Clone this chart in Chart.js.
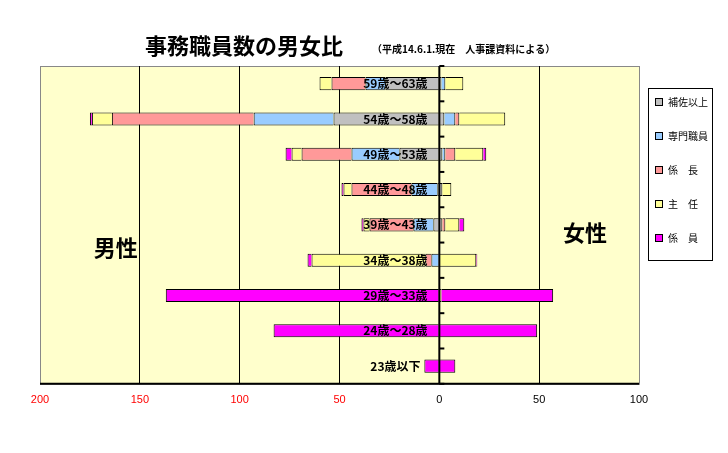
<!DOCTYPE html>
<html><head><meta charset="utf-8">
<script src="https://cdn.jsdelivr.net/npm/chart.js@4"></script>
<style>body{margin:0;background:#fff}#wrap{width:728px;height:453px}</style>
</head><body><div id="wrap"><canvas id="c"></canvas></div>
<script>
const ageGroups = ['59歳～63歳','54歳～58歳','49歳～53歳','44歳～48歳','39歳～43歳','34歳～38歳','29歳～33歳','24歳～28歳','23歳以下'];
const roles = ['補佐以上','専門職員','係　長','主　任','係　員'];
const roleColors = ['#C0C0C0','#99CCFF','#FF9999','#FFFF99','#FF00FF'];
// male counts (drawn to the left), per role
const maleHosa    = [27, 53, 20, 1, 3, 0, 0, 0, 0];
const maleSenmon  = [10, 40, 24, 13, 10, 4, 0, 0, 0];
const maleKakari  = [17, 71, 25, 30, 22, 3, 0, 0, 0];
const maleShunin  = [6, 10, 5, 4, 3, 57, 0, 0, 0];
const maleKakariin= [0, 1, 3, 1, 1, 2, 137, 83, 7.5];
// female counts (drawn to the right)
const femHosa     = [1, 2.5, 1.5, 1.5, 1.5, 0, 0, 0, 0];
const femSenmon   = [2, 5.5, 1.5, 0, 0, 0, 0, 0, 0];
const femKakari   = [0, 2, 5, 0, 1.5, 0, 0, 0, 0];
const femShunin   = [9, 23, 14, 4.5, 7, 18.5, 1, 0, 0];
const femKakariin = [0, 0, 1.5, 0, 2.5, 0.5, 56, 49, 8];

const maleData = [maleHosa, maleSenmon, maleKakari, maleShunin, maleKakariin];
const femData = [femHosa, femSenmon, femKakari, femShunin, femKakariin];

const datasets = [];
roles.forEach((r, i) => {
  datasets.push({label: r, data: femData[i], backgroundColor: roleColors[i], borderColor: '#000', borderWidth: 1, stack: 's'});
});
roles.forEach((r, i) => {
  datasets.push({label: r + '_m', data: maleData[i].map(v => -v), backgroundColor: roleColors[i], borderColor: '#000', borderWidth: 1, stack: 's'});
});

const extras = {
  id: 'extras',
  beforeDraw(chart) {
    const {ctx, chartArea: a} = chart;
    ctx.save();
    ctx.fillStyle = '#FFFFCC';
    ctx.fillRect(a.left, a.top, a.right - a.left, a.bottom - a.top);
    ctx.strokeStyle = '#888'; ctx.lineWidth = 1;
    ctx.strokeRect(a.left + 0.5, a.top + 0.5, a.right - a.left, a.bottom - a.top);
    ctx.restore();
  },
  afterDatasetsDraw(chart) {
    const {ctx, chartArea: a, scales} = chart;
    const x0 = scales.x.getPixelForValue(0);
    ctx.save();
    ctx.strokeStyle = '#000'; ctx.lineWidth = 2;
    ctx.beginPath(); ctx.moveTo(x0, a.top); ctx.lineTo(x0, a.bottom); ctx.stroke();
    const step = (a.bottom - a.top) / ageGroups.length;
    for (let i = 0; i <= ageGroups.length; i++) {
      const y = a.top + i * step;
      ctx.beginPath(); ctx.moveTo(x0, y); ctx.lineTo(x0 + 5, y); ctx.stroke();
    }
    ctx.beginPath(); ctx.moveTo(a.left, a.bottom); ctx.lineTo(a.right, a.bottom); ctx.stroke();
    ctx.fillStyle = '#000';
    ctx.font = 'bold 12px "Noto Sans CJK JP"';
    ctx.textAlign = 'center'; ctx.textBaseline = 'middle';
    ageGroups.forEach((g, i) => {
      ctx.fillText(g, scales.x.getPixelForValue(-22), scales.y.getPixelForValue(i));
    });
    ctx.font = 'bold 22px "Noto Sans CJK JP"';
    ctx.fillText('男性', scales.x.getPixelForValue(-162), a.top + 182);
    ctx.fillText('女性', scales.x.getPixelForValue(73), a.top + 167);
    // title
    ctx.textAlign = 'left';
    ctx.font = 'bold 22px "Noto Sans CJK JP"';
    ctx.fillText('事務職員数の男女比', 145, 46);
    ctx.font = 'bold 10px "Noto Sans CJK JP"';
    ctx.fillText('（平成14.6.1.現在　人事課資料による）', 372, 49);
    // legend
    ctx.lineWidth = 1;
    ctx.strokeRect(648.5, 88.5, 64, 172);
    ctx.font = '10px "Noto Sans CJK JP"';
    roles.forEach((r, i) => {
      const y = 102 + i * 34;
      ctx.fillStyle = roleColors[i];
      ctx.fillRect(655, y - 4, 8, 8);
      ctx.strokeRect(655.5, y - 3.5, 7, 7);
      ctx.fillStyle = '#000';
      ctx.fillText(r, 668, y);
    });
    ctx.restore();
  }
};

new Chart(document.getElementById('c'), {
  type: 'bar',
  data: {labels: ageGroups, datasets: datasets},
  plugins: [extras],
  options: {
    indexAxis: 'y',
    responsive: true, maintainAspectRatio: false, animation: false,
    layout: {padding: {top: 66, left: 40, right: 89, bottom: 36}},
    barPercentage: 0.37, categoryPercentage: 1,
    plugins: {
      title: {display: false},
      tooltip: {enabled: false},
      legend: {display: false}
    },
    scales: {
      x: {
        stacked: true, min: -200, max: 100,
        ticks: {stepSize: 50, callback: v => Math.abs(v), color: c => c.tick.value < 0 ? '#FF0000' : '#000', font: {size: 11}, padding: 10},
        grid: {color: c => (c.tick.value === 0 || c.tick.value === -200 || c.tick.value === 100) ? 'rgba(0,0,0,0)' : '#000', drawTicks: false},
        border: {display: false}
      },
      y: {stacked: true, display: false, grid: {display: false}}
    }
  }
});
</script></body></html>
